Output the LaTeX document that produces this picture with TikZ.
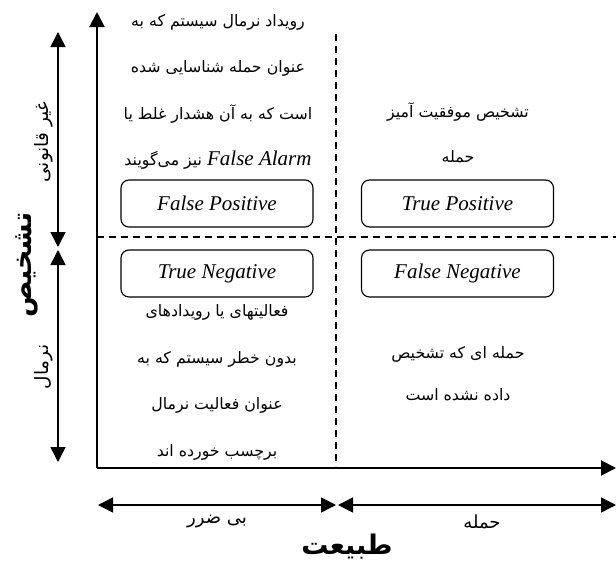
\documentclass[tikz,border=0pt]{standalone}
\usepackage{fontspec}
\setmainfont{Liberation Serif}
\newfontfamily\farsi[Script=Arabic]{DejaVu Sans}
\TeXXeTstate=1
\usetikzlibrary{arrows.meta}
\newcommand{\fatext}[1]{{\farsi\beginR #1\endR}}
\begin{document}
\begin{tikzpicture}[x=1pt, y=-1pt, >={Triangle[length=15pt,width=15pt]},
    cellbox/.style={draw, rounded corners=8pt, line width=1.1pt,
        minimum width=192pt, minimum height=47pt,
        font=\itshape\fontsize{21}{24}\selectfont},
    desc/.style={align=center, font=\farsi\fontsize{15.8}{46.5}\selectfont},
    sidelabel/.style={rotate=90, font=\farsi\fontsize{18.5}{21}\selectfont},
    axislabel/.style={font=\farsi\fontsize{18}{21}\selectfont},
    titlelabel/.style={font=\farsi\bfseries\fontsize{27}{30}\selectfont},
    grid line/.style={line width=1.1pt, dash pattern=on 7pt off 5pt}]
    \useasboundingbox (0,0) rectangle (616,565);

    % 1. Trục tọa độ
    \coordinate (O) at (97,468);
    \coordinate (ytop) at (97,12);
    \coordinate (xend) at (616,468);
    \draw[->, line width=2pt] (O) -- (ytop);
    \draw[->, line width=2pt] (O) -- (xend);

    % 2. Đường chia ô (nét đứt)
    \coordinate (vtop) at (336,34);
    \coordinate (vbot) at (336,466);
    \coordinate (hleft) at (97,237);
    \coordinate (hright) at (616,237);
    \draw[grid line] (vtop) -- (vbot);
    \draw[grid line] (hleft) -- (hright);

    % 3. Mũi tên hai đầu bên trái
    \coordinate (illegalTop) at (58,32);
    \coordinate (illegalBot) at (58,247);
    \coordinate (normalTop) at (58,250);
    \coordinate (normalBot) at (58,462);
    \draw[<->, line width=1.5pt] (illegalTop) -- (illegalBot);
    \draw[<->, line width=1.5pt] (normalTop) -- (normalBot);
    \node[sidelabel] (illegal) at (44,142) {\beginR غیر قانونی\endR};
    \node[sidelabel] (normal) at (44,367) {\beginR نرمال\endR};
    \node[titlelabel, rotate=90] (detect) at (27,265) {\beginR تشخیص\endR};

    % 4. Mũi tên hai đầu bên dưới
    \coordinate (benignL) at (98,505);
    \coordinate (benignR) at (336,505);
    \coordinate (attackL) at (338,505);
    \coordinate (attackR) at (616,505);
    \draw[<->, line width=1.5pt] (benignL) -- (benignR);
    \draw[<->, line width=1.5pt] (attackL) -- (attackR);
    \node[axislabel] (benign) at (217,522) {\beginR بی ضرر\endR};
    \node[axislabel] (attack) at (482,522) {\beginR حمله\endR};
    \node[titlelabel] (nature) at (347,547) {\beginR طبیعت\endR};

    % 5. Bốn ô
    \node[cellbox] (fp) at (217,203.5) {False Positive};
    \node[cellbox] (tp) at (457.5,203.5) {True Positive};
    \node[cellbox] (tn) at (217,273.5) {True Negative};
    \node[cellbox] (fn) at (457.5,273.5) {False Negative};

    % 6. Mô tả
    \node[desc] (fpText) at (218,92) {\beginR رویداد نرمال سیستم که به\endR\\
        \beginR عنوان حمله شناسایی شده\endR\\
        \beginR است که به آن هشدار غلط یا\endR\\
        \beginR\beginL{\rmfamily\itshape\fontsize{21}{24}\selectfont False Alarm}\endL{} نیز می‌گویند\endR};
    \node[desc] (tpText) at (458,132.5) {\beginR تشخیص موفقیت آمیز\endR\\[-1.5pt]
        \beginR حمله\endR};
    \node[desc] (tnText) at (217,382.5) {\beginR فعالیتهای یا رویدادهای\endR\\
        \beginR بدون خطر سیستم که به\endR\\
        \beginR عنوان فعالیت نرمال\endR\\
        \beginR برچسب خورده اند\endR};
    \node[desc] (fnText) at (458,374) {\beginR حمله ای که تشخیص\endR\\[-4.5pt]
        \beginR داده نشده است\endR};
\end{tikzpicture}
\end{document}
